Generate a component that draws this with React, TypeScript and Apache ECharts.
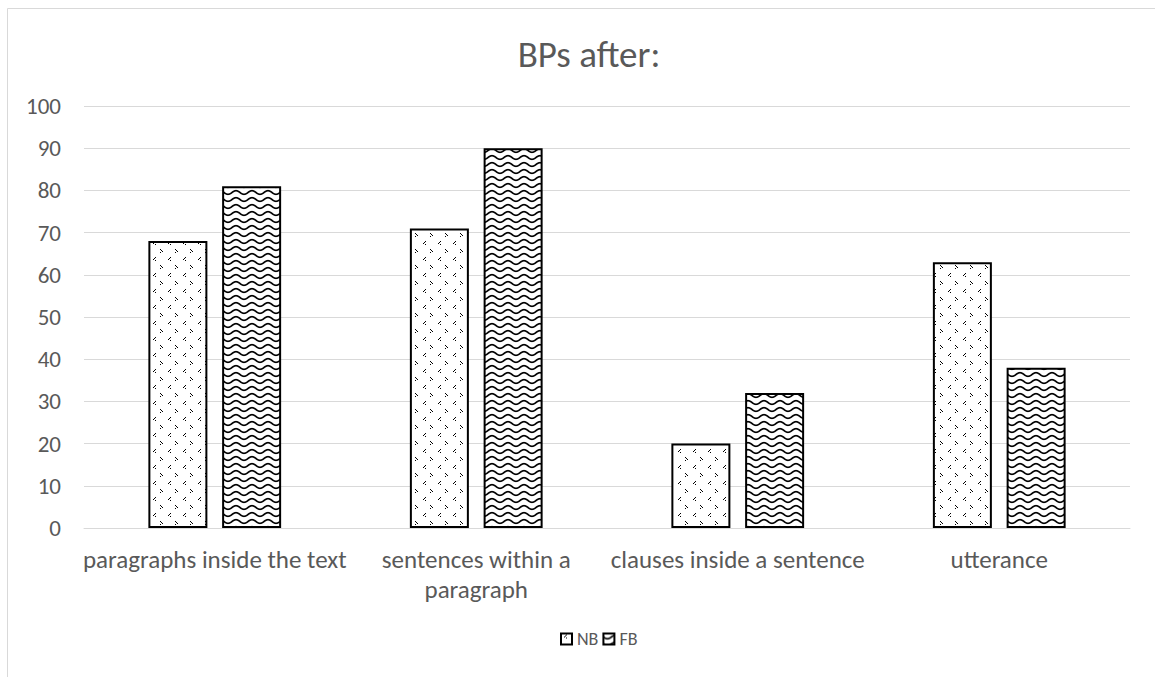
import React, { useEffect, useRef } from "react";
import * as echarts from "echarts";

const categories = [
  "paragraphs inside the text",
  "sentences within a\nparagraph",
  "clauses inside a sentence",
  "utterance",
];
const nbValues = [68, 71, 20, 63];
const fbValues = [81, 90, 32, 38];
const yTicks = { min: 0, max: 100, interval: 10 };

function makeDotPattern(): HTMLCanvasElement {
  const c = document.createElement("canvas");
  c.width = 15;
  c.height = 16;
  const ctx = c.getContext("2d")!;
  ctx.fillStyle = "#ffffff";
  ctx.fillRect(0, 0, 15, 16);
  ctx.fillStyle = "#000000";
  const lt = (x: number, y: number) => {
    ctx.fillRect(x + 2, y, 1, 1);
    ctx.fillRect(x + 1, y + 1, 1, 1);
    ctx.fillRect(x, y + 2, 1, 1);
    ctx.fillRect(x + 2, y + 3, 1, 1);
  };
  const gt = (x: number, y: number) => {
    ctx.fillRect(x, y, 1, 1);
    ctx.fillRect(x + 1, y + 1, 1, 1);
    ctx.fillRect(x + 2, y + 2, 1, 1);
    ctx.fillRect(x, y + 3, 1, 1);
  };
  lt(3, 1);
  gt(10, 9);
  return c;
}

function makeWavePattern(): HTMLCanvasElement {
  const c = document.createElement("canvas");
  c.width = 16;
  c.height = 7;
  const ctx = c.getContext("2d")!;
  ctx.fillStyle = "#ffffff";
  ctx.fillRect(0, 0, 16, 7);
  ctx.strokeStyle = "#000000";
  ctx.lineWidth = 1.7;
  ctx.beginPath();
  for (let x = -1; x <= 17; x += 0.5) {
    const y = 3.5 + 1.8 * Math.sin((x / 16) * Math.PI * 2);
    if (x === -1) ctx.moveTo(x, y);
    else ctx.lineTo(x, y);
  }
  ctx.stroke();
  return c;
}

export default function App() {
  const ref = useRef<HTMLDivElement>(null);
  useEffect(() => {
    if (!ref.current) return;
    const chart = echarts.init(ref.current, undefined, { renderer: "svg" });
    const dot = makeDotPattern();
    const wave = makeWavePattern();
    const font = "Carlito, Lato, 'Open Sans', sans-serif";
    chart.setOption({
      animation: false,
      backgroundColor: "#ffffff",
      title: {
        text: "BPs after:",
        left: 584,
        top: 31,
        textAlign: "center",
        textStyle: { fontFamily: font, fontSize: 37, fontWeight: "normal", color: "#595959" },
      },
      graphic: [
        {
          type: "rect",
          shape: { x: 7.5, y: 8.5, width: 1200, height: 720 },
          style: { fill: "none", stroke: "#d9d9d9", lineWidth: 1 },
          silent: true,
          z: -10,
        },
      ],
      legend: {
        left: 560,
        top: 630,
        padding: 0,
        itemWidth: 11,
        itemHeight: 11,
        itemGap: 4,
        icon: "rect",
        textStyle: { fontFamily: font, fontSize: 18, color: "#595959" },
        data: ["NB", "FB"],
      },
      grid: { left: 84, right: 25, top: 106, bottom: 149 },
      xAxis: {
        type: "category",
        data: categories,
        axisTick: { show: false },
        axisLine: { lineStyle: { color: "#d9d9d9", width: 1 } },
        axisLabel: {
          fontFamily: font,
          fontSize: 25,
          color: "#595959",
          margin: 16,
          lineHeight: 30,
          interval: 0,
        },
      },
      yAxis: {
        type: "value",
        min: yTicks.min,
        max: yTicks.max,
        interval: yTicks.interval,
        axisLine: { show: false },
        axisTick: { show: false },
        splitLine: { lineStyle: { color: "#d9d9d9", width: 1 } },
        axisLabel: { fontFamily: font, fontSize: 23, color: "#595959", margin: 23 },
      },
      series: [
        {
          name: "NB",
          type: "bar",
          data: nbValues,
          barWidth: 59,
          barGap: "25%",
          itemStyle: {
            color: { image: dot, repeat: "repeat" },
            borderColor: "#000000",
            borderWidth: 2,
          },
        },
        {
          name: "FB",
          type: "bar",
          data: fbValues,
          barWidth: 59,
          barGap: "25%",
          itemStyle: {
            color: { image: wave, repeat: "repeat" },
            borderColor: "#000000",
            borderWidth: 2,
          },
        },
      ],
    });
    return () => chart.dispose();
  }, []);
  return (
    <div
      ref={ref}
      style={{ position: "fixed", left: 0, top: 0, width: 1155, height: 677 }}
    />
  );
}
